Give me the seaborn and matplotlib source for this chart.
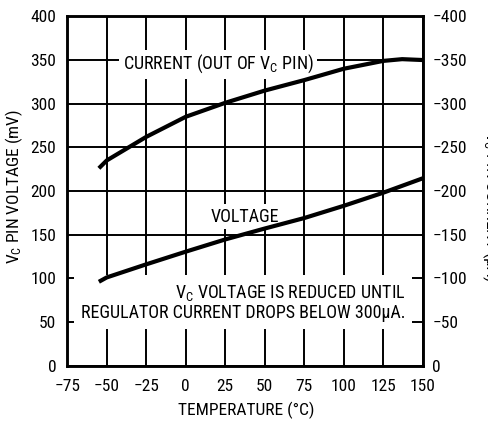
import matplotlib
matplotlib.use("Agg")
import matplotlib.pyplot as plt
import seaborn as sns
import pandas as pd

# Regulator V_C pin characteristics versus temperature
current_temp_c = [-55, -50, -25, 0, 25, 50, 75, 100, 125, 137, 150]
current_ua = [-226, -235, -262, -285, -301, -315, -327, -340, -349, -351, -350]

voltage_temp_c = [-55, -50, -25, 0, 25, 50, 75, 100, 125, 150]
voltage_mv = [96, 101, 116, 130.5, 144.5, 157, 169, 183, 198, 214.5]

x_ticks = [-75, -50, -25, 0, 25, 50, 75, 100, 125, 150]
left_ticks = [0, 50, 100, 150, 200, 250, 300, 350, 400]
right_ticks = [0, -50, -100, -150, -200, -250, -300, -350, -400]

current_df = pd.DataFrame({"temp": current_temp_c, "current": current_ua})
voltage_df = pd.DataFrame({"temp": voltage_temp_c, "voltage": voltage_mv})

sns.set_theme(style="white")
FONT = ["Roboto Condensed", "DejaVu Sans"]
plt.rcParams["font.family"] = FONT
plt.rcParams["mathtext.fontset"] = "custom"
plt.rcParams["mathtext.rm"] = "Roboto Condensed"
plt.rcParams["mathtext.it"] = "Roboto Condensed:italic"
plt.rcParams["text.color"] = "black"
plt.rcParams["axes.labelcolor"] = "black"

FS = 12.5      # tick labels and axis titles
FS_NOTE = 13   # in-plot annotations
SPINE_W = 1.8
GRID_W = 1.4
CURVE_W = 3.0


def signed(v):
    return f"\u2212{abs(v)}" if v < 0 else str(v)


fig = plt.figure(figsize=(4.89, 4.21), dpi=100)
ax = fig.add_axes([0.1376, 0.1316, 0.7268, 0.8295])

sns.lineplot(data=voltage_df, x="temp", y="voltage", ax=ax, color="black",
             linewidth=CURVE_W, solid_capstyle="butt", zorder=4)

ax.set_xlim(-75, 150)
ax.set_ylim(0, 400)
ax.set_xticks(x_ticks)
ax.set_xticklabels([signed(v) for v in x_ticks])
ax.set_yticks(left_ticks)
ax.set_yticklabels([str(v) for v in left_ticks])
ax.grid(True, color="black", linewidth=GRID_W)
ax.set_axisbelow(True)
ax.set_xlabel("")
ax.set_ylabel("")
ax.tick_params(axis="both", length=0, labelsize=FS, colors="black")
ax.tick_params(axis="x", pad=9.5)
ax.tick_params(axis="y", pad=8)
for s in ax.spines.values():
    s.set_color("black")
    s.set_linewidth(SPINE_W)

# Right axis: current flowing out of the pin (negative values)
ax2 = ax.twinx()
sns.lineplot(data=current_df, x="temp", y="current", ax=ax2, color="black",
             linewidth=CURVE_W, solid_capstyle="butt", zorder=4)
ax2.set_ylim(0, -400)
ax2.set_yticks(right_ticks)
ax2.set_yticklabels([signed(v) for v in right_ticks])
ax2.set_ylabel("")
ax2.tick_params(axis="y", length=0, labelsize=FS, colors="black", pad=7)
ax2.grid(False)
for s in ax2.spines.values():
    s.set_color("black")
    s.set_linewidth(SPINE_W)

white_box = dict(facecolor="white", edgecolor="none", pad=2.5)

ax.text(20.4, 339.5, r"CURRENT (OUT OF $\mathregular{V_C}$ PIN)", fontsize=FS_NOTE,
        ha="center", va="baseline", bbox=white_box, zorder=3)
ax.text(37.5, 165, "VOLTAGE", fontsize=FS_NOTE, ha="center", va="baseline",
        bbox=white_box, zorder=3)
ax.text(138.8, 54, "$\\mathregular{V_C}$ VOLTAGE IS REDUCED UNTIL\n"
        "REGULATOR CURRENT DROPS BELOW 300\u03bcA.",
        fontsize=FS_NOTE, ha="right", va="baseline", multialignment="right",
        linespacing=1.1,
        bbox=dict(facecolor="white", edgecolor="none", pad=5), zorder=3)

fig.text(246 / 489, 1 - 410 / 421, "TEMPERATURE (\u00b0C)", fontsize=FS,
         ha="center", va="center")
fig.text(14 / 489, 1 - 186 / 421, r"$\mathregular{V_C}$ PIN VOLTAGE (mV)",
         fontsize=FS, ha="center", va="center", rotation=90)
fig.text(480 / 489, 1 - 206 / 421, "$\\mathregular{V_C}$ PIN CURRENT (\u03bcA)",
         fontsize=FS, ha="left", va="center", rotation=-90)

fig.savefig("out.png", dpi=100)
